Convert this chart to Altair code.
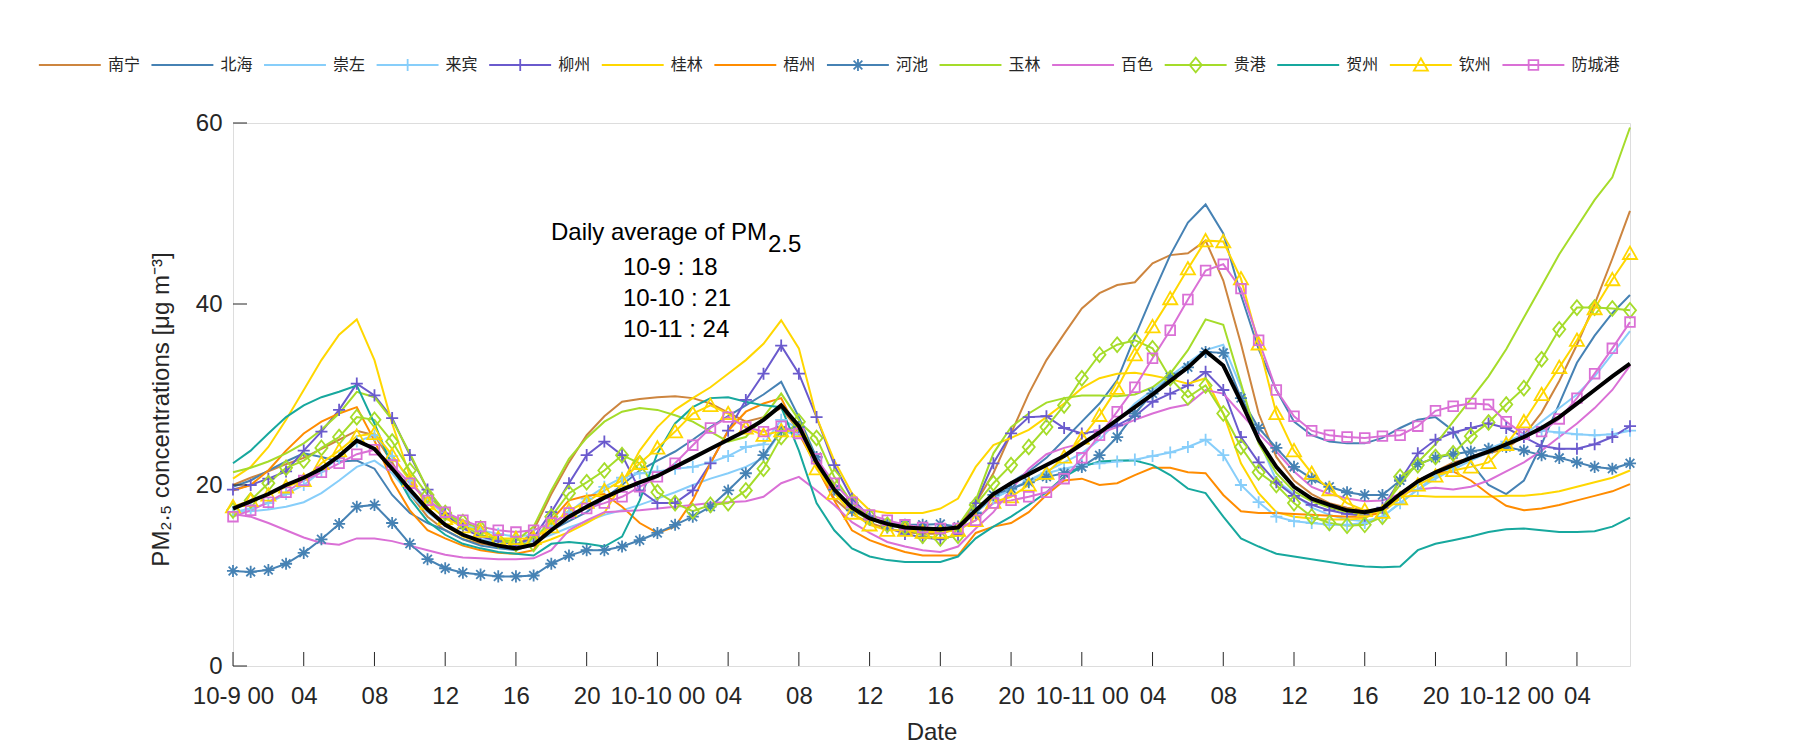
import altair as alt
import pandas as pd

# ---------------- data ----------------
hours = list(range(80))  # 10-9 00 ... 10-12 07, hourly

cities = ["南宁", "北海", "崇左", "来宾", "柳州", "桂林", "梧州",
          "河池", "玉林", "百色", "贵港", "贺州", "钦州", "防城港"]
colors = ["#CD853F", "#4682B4", "#87CEFA", "#87CEFA", "#6A5ACD", "#FFD700", "#FF8C00",
          "#4682B4", "#A5DC2A", "#DA70D6", "#A5DC2A", "#17A89E", "#FFD700", "#DA70D6"]

marker_cities = ["来宾", "柳州", "河池", "贵港", "钦州", "防城港"]
marker_paths = [
    "M-0.9,0H0.9M0,-0.9V0.9",
    "M-0.9,0H0.9M0,-0.9V0.9",
    "M-0.9,0H0.9M0,-0.9V0.9M-0.65,-0.65L0.65,0.65M-0.65,0.65L0.65,-0.65",
    "M0,-1.1L0.9,0L0,1.1L-0.9,0Z",
    "M0,-1L1.05,0.85L-1.05,0.85Z",
    "M-0.72,-0.72H0.72V0.72H-0.72Z",
]

nanning = [20.0, 20.8, 21.5, 22.3, 23.0, 24.0, 25.0, 26.0, 25.5, 22.5,
           19.0, 16.5, 15.0, 14.0, 13.5, 13.2, 13.0, 15.0, 19.0, 22.5,
           25.5, 27.6, 29.2, 29.5, 29.7, 29.8, 29.6, 29.0, 28.0, 27.0,
           27.5, 28.5, 26.0, 22.0, 18.5, 16.8, 15.8, 15.2, 14.8, 14.6,
           14.6, 15.2, 18.0, 21.3, 25.7, 30.1, 33.8, 36.7, 39.5, 41.2,
           42.1, 42.4, 44.5, 45.4, 45.6, 47.0, 42.6, 35.6, 27.9, 23.1,
           20.5, 19.0, 18.0, 17.5, 17.2, 17.3, 18.5, 20.5, 21.5, 22.5,
           23.0, 23.5, 24.0, 25.5, 28.0, 31.5, 35.5, 40.0, 45.0, 50.3]
beihai = [19.8, 20.5, 21.6, 22.6, 23.5, 23.1, 22.6, 22.7, 21.8, 18.9,
          16.9, 15.8, 15.0, 14.0, 13.3, 13.0, 12.8, 13.5, 15.0, 16.0,
          17.0, 18.5, 20.0, 21.6, 22.7, 23.7, 25.0, 26.4, 27.6, 28.8,
          30.0, 31.4, 27.5, 23.0, 19.5, 17.5, 16.3, 15.6, 15.2, 15.0,
          15.0, 15.2, 17.0, 19.0, 20.3, 21.5, 23.0, 25.0, 27.0, 29.0,
          31.6, 36.4, 41.0, 45.4, 49.0, 51.0, 47.8, 41.0, 35.0, 30.5,
          27.0, 25.5, 24.8, 24.6, 24.6, 25.2, 26.3, 27.2, 27.5, 26.0,
          22.5, 20.0, 19.0, 20.5, 24.5, 29.0, 33.5, 36.5, 39.0, 41.0]
chongzuo = [17.0, 17.1, 17.3, 17.6, 18.1, 19.1, 20.5, 22.0, 22.7, 21.3,
            19.0, 17.0, 15.5, 14.5, 14.0, 13.7, 13.5, 13.8, 14.5, 15.3,
            16.0, 16.7, 17.2, 17.8, 18.5, 19.2, 20.0, 20.7, 21.3, 22.0,
            23.0, 26.0, 25.5, 23.0, 19.5, 17.5, 16.3, 15.7, 15.4, 15.2,
            15.2, 15.5, 17.0, 18.5, 19.5, 20.5, 21.5, 22.5, 23.5, 25.0,
            27.0, 29.0, 30.5, 32.0, 33.5, 34.9, 35.5, 30.8, 25.0, 20.5,
            19.0, 17.5, 16.7, 16.2, 16.0, 16.5, 18.0, 19.5, 20.7, 21.7,
            22.7, 23.6, 24.5, 25.5, 27.0, 28.5, 30.0, 32.0, 34.5, 37.0]
laibin = [17.0, 17.4, 18.0, 19.0, 20.0, 21.5, 23.0, 24.8, 25.5, 23.2,
          20.5, 18.3, 16.7, 15.6, 15.0, 14.6, 14.3, 14.5, 15.5, 17.0,
          18.5, 19.8, 20.8, 21.3, 21.5, 21.8, 22.0, 22.5, 23.2, 24.2,
          24.5, 27.2, 26.3, 23.0, 19.5, 17.5, 16.3, 15.6, 15.2, 15.0,
          15.0, 15.3, 17.0, 18.5, 19.5, 20.5, 21.3, 21.8, 22.2, 22.4,
          22.6, 22.8, 23.2, 23.6, 24.2, 25.0, 23.3, 20.0, 18.1, 16.5,
          16.0, 15.8, 15.6, 15.6, 15.8, 16.5, 18.0, 19.5, 21.0, 22.0,
          23.0, 24.0, 24.8, 25.6, 26.0, 25.8, 25.6, 25.5, 25.6, 26.0]
liuzhou = [19.5, 20.0, 20.7, 21.5, 23.8, 25.9, 28.3, 31.2, 29.9, 27.4,
           23.3, 19.5, 16.8, 15.2, 14.3, 13.8, 13.4, 14.2, 17.0, 20.2,
           23.3, 24.8, 23.3, 19.4, 18.0, 18.0, 19.4, 22.4, 26.0, 29.4,
           32.3, 35.4, 32.3, 27.5, 22.2, 18.5, 16.5, 15.3, 14.6, 14.2,
           14.0, 14.5, 18.0, 22.4, 25.7, 27.5, 27.6, 26.3, 25.7, 26.0,
           26.6, 27.6, 29.2, 30.1, 31.0, 32.5, 30.5, 25.3, 22.5, 20.3,
           18.8, 17.8, 17.2, 16.8, 16.6, 17.5, 20.5, 23.5, 25.0, 25.8,
           26.3, 26.8, 26.3, 25.3, 24.3, 24.0, 24.0, 24.5, 25.3, 26.5]
guilin = [20.7, 22.0, 24.2, 27.2, 30.5, 33.8, 36.6, 38.3, 33.8, 26.8,
          21.0, 17.5, 15.5, 14.3, 13.7, 13.3, 13.1, 13.3, 14.0, 14.8,
          15.8, 16.9, 20.2, 23.8, 26.4, 28.3, 29.6, 30.8, 32.3, 33.8,
          35.6, 38.2, 35.1, 27.5, 22.7, 19.1, 17.2, 16.9, 16.9, 16.9,
          17.4, 18.5, 22.0, 24.4, 25.2, 26.1, 27.5, 29.0, 30.7, 31.8,
          32.3, 32.4, 32.1, 31.7, 31.2, 31.8, 27.9, 22.4, 19.1, 17.0,
          16.5, 16.3, 16.2, 16.2, 16.3, 17.5, 18.7, 18.8, 18.7, 18.7,
          18.7, 18.7, 18.8, 18.8, 19.0, 19.3, 19.8, 20.3, 20.8, 21.6]
wuzhou = [19.4, 20.0, 21.6, 23.8, 25.7, 27.0, 27.9, 28.6, 24.9, 20.5,
          17.2, 15.0, 14.1, 13.3, 12.8, 12.5, 12.4, 12.8, 16.1, 18.3,
          18.8, 19.0, 17.6, 15.8, 14.7, 15.4, 18.3, 22.4, 26.0, 28.1,
          29.0, 29.6, 25.7, 22.0, 18.3, 15.0, 13.9, 13.2, 12.6, 12.2,
          12.2, 12.2, 14.7, 15.4, 15.8, 17.0, 18.9, 20.5, 20.7, 20.0,
          20.2, 21.1, 21.9, 21.9, 21.4, 21.3, 18.9, 17.1, 16.9, 16.9,
          16.8, 16.7, 16.6, 16.5, 16.5, 17.0, 19.0, 20.5, 21.3, 21.5,
          20.5, 19.0, 17.7, 17.2, 17.4, 17.8, 18.3, 18.8, 19.3, 20.1]
hechi = [10.5, 10.4, 10.6, 11.3, 12.5, 14.0, 15.7, 17.6, 17.8, 15.8,
         13.5, 11.8, 10.8, 10.3, 10.1, 9.9, 9.9, 10.0, 11.3, 12.2,
         12.8, 12.8, 13.2, 13.9, 14.7, 15.6, 16.5, 17.6, 19.4, 21.3,
         23.3, 26.0, 26.4, 23.1, 19.5, 17.2, 16.2, 15.7, 15.6, 15.6,
         15.7, 15.4, 16.9, 18.9, 19.6, 20.3, 20.9, 21.3, 22.0, 23.3,
         25.3, 27.9, 30.1, 31.9, 33.0, 34.7, 34.6, 29.6, 26.3, 24.1,
         22.0, 20.7, 19.8, 19.2, 18.9, 18.9, 20.5, 22.3, 23.0, 23.4,
         23.7, 24.0, 24.2, 23.8, 23.3, 23.0, 22.5, 22.0, 21.8, 22.4]
yulin = [21.4, 21.9, 22.6, 23.5, 24.6, 26.1, 27.9, 30.3, 29.7, 27.2,
         23.5, 19.5, 17.0, 15.5, 14.5, 14.0, 13.8, 15.4, 19.4, 22.9,
         25.2, 27.0, 28.1, 28.5, 28.3, 27.7, 27.0, 25.9, 24.8, 25.3,
         27.5, 30.1, 27.2, 22.5, 19.5, 17.3, 16.2, 15.6, 15.2, 15.0,
         15.0, 15.5, 18.3, 23.5, 26.4, 27.9, 29.1, 29.6, 29.9, 29.9,
         29.8, 30.0, 30.8, 32.3, 34.9, 38.3, 37.7, 31.2, 24.6, 21.3,
         19.3, 18.2, 17.5, 17.0, 16.8, 17.5, 20.0, 22.5, 24.5, 27.0,
         29.5, 32.0, 35.0, 38.5, 42.0, 45.5, 48.5, 51.5, 54.0, 59.5]
baise = [16.8, 16.5, 15.8, 15.0, 14.2, 13.6, 13.4, 14.1, 14.1, 13.8,
         13.3, 12.8, 12.3, 12.0, 11.9, 11.8, 11.8, 11.9, 12.8, 15.0,
         16.1, 17.0, 17.1, 17.2, 17.4, 17.6, 17.8, 18.0, 18.1, 18.2,
         18.7, 20.2, 20.9, 19.4, 17.8, 15.9, 14.7, 13.7, 13.2, 12.8,
         12.6, 13.2, 15.2, 17.0, 19.5, 21.8, 23.4, 24.1, 24.6, 25.7,
         26.4, 27.2, 27.9, 28.5, 28.9, 30.5, 30.1, 27.9, 25.7, 23.7,
         21.5, 19.8, 19.0, 18.5, 18.2, 18.3, 19.0, 19.5, 19.7, 19.5,
         19.8, 20.5, 21.5, 22.5, 23.8, 25.3, 26.8, 28.5, 30.5, 33.2]
guigang = [17.2, 18.3, 20.2, 21.9, 22.7, 24.1, 25.3, 27.5, 27.2, 24.8,
           21.6, 18.9, 16.9, 15.9, 15.2, 13.9, 13.5, 13.5, 16.5, 19.1,
           20.3, 21.6, 23.3, 22.4, 19.2, 18.0, 17.1, 17.8, 18.0, 19.4,
           21.8, 25.3, 27.0, 25.2, 20.9, 18.0, 16.5, 15.6, 15.3, 14.4,
           14.1, 14.4, 17.8, 20.2, 22.2, 24.2, 26.4, 28.8, 31.8, 34.4,
           35.5, 36.0, 35.1, 31.8, 29.7, 31.0, 27.9, 24.2, 21.4, 20.0,
           18.0, 16.5, 15.8, 15.5, 15.6, 16.5, 20.9, 22.2, 23.1, 23.5,
           25.4, 26.9, 28.9, 30.7, 33.9, 37.2, 39.6, 39.6, 39.5, 39.3]
hezhou = [22.4, 23.8, 25.7, 27.5, 28.8, 29.7, 30.3, 31.0, 26.8, 22.0,
          18.5, 16.0, 14.5, 13.5, 13.0, 12.6, 12.4, 12.2, 13.5, 13.7,
          13.5, 13.2, 14.3, 18.3, 23.5, 26.8, 28.6, 29.6, 29.7, 29.2,
          28.8, 28.6, 23.8, 18.0, 15.0, 13.0, 12.1, 11.7, 11.5, 11.5,
          11.5, 12.1, 14.1, 15.4, 16.5, 17.8, 19.2, 20.9, 22.0, 22.6,
          22.7, 22.7, 22.2, 21.1, 19.6, 19.1, 16.5, 14.1, 13.2, 12.4,
          12.1, 11.8, 11.5, 11.2, 11.0, 10.9, 11.0, 12.8, 13.5, 13.9,
          14.3, 14.8, 15.1, 15.2, 15.0, 14.8, 14.8, 14.9, 15.4, 16.4]
qinzhou = [17.6, 18.3, 18.9, 19.8, 20.5, 22.4, 23.8, 25.4, 25.7, 23.3,
           20.5, 18.0, 16.3, 15.4, 14.9, 14.1, 14.1, 14.1, 15.4, 17.2,
           18.1, 19.4, 20.5, 22.4, 24.1, 25.9, 27.9, 28.8, 27.9, 26.3,
           25.5, 26.0, 26.0, 21.8, 19.1, 16.9, 15.6, 15.0, 15.0, 14.8,
           14.8, 15.0, 16.1, 18.1, 18.7, 20.0, 21.3, 23.1, 25.2, 27.7,
           30.7, 34.4, 37.5, 40.6, 43.9, 47.0, 46.9, 42.8, 35.6, 27.9,
           23.8, 21.3, 19.5, 18.0, 17.2, 17.0, 18.5, 20.0, 21.0, 21.6,
           22.0, 22.5, 24.5, 27.0, 30.0, 33.0, 36.0, 39.5, 42.7, 45.6]
fangchenggang = [16.5, 17.2, 18.1, 19.2, 20.5, 21.4, 22.4, 23.4, 23.9, 22.2,
                 20.2, 18.3, 17.0, 16.1, 15.4, 15.0, 14.8, 15.0, 15.8, 16.9,
                 17.4, 18.0, 18.7, 19.8, 20.9, 22.4, 24.4, 26.3, 27.5, 26.4,
                 25.9, 26.5, 25.7, 22.9, 20.2, 18.1, 16.7, 16.1, 15.6, 15.3,
                 15.2, 15.2, 16.1, 18.0, 18.3, 18.7, 19.2, 20.7, 23.0, 25.5,
                 28.1, 30.8, 34.0, 37.1, 40.5, 43.7, 44.4, 41.7, 36.0, 30.5,
                 27.6, 26.0, 25.5, 25.3, 25.2, 25.4, 25.5, 26.5, 28.2, 28.7,
                 29.0, 28.9, 27.0, 25.6, 25.9, 27.3, 29.6, 32.3, 35.1, 38.0]
average = [17.4, 18.2, 19.0, 20.0, 20.8, 21.8, 23.2, 24.9, 24.0, 21.8,
           19.5, 17.3, 15.6, 14.5, 13.8, 13.3, 13.0, 13.4, 15.0, 16.5,
           17.6, 18.6, 19.5, 20.3, 21.0, 22.0, 23.0, 24.0, 25.0, 26.0,
           27.2, 28.8, 26.5, 22.5, 19.5, 17.5, 16.3, 15.7, 15.3, 15.2,
           15.1, 15.3, 17.2, 19.0, 20.2, 21.2, 22.2, 23.2, 24.5, 25.8,
           27.2, 28.6, 30.0, 31.5, 33.0, 34.8, 33.2, 29.2, 25.0, 22.0,
           19.8, 18.5, 17.8, 17.2, 17.0, 17.4, 19.0, 20.4, 21.4, 22.2,
           23.0, 23.7, 24.5, 25.3, 26.3, 27.5, 29.0, 30.5, 32.0, 33.4]

series_values = [nanning, beihai, chongzuo, laibin, liuzhou, guilin, wuzhou,
                 hechi, yulin, baise, guigang, hezhou, qinzhou, fangchenggang]

x_tick_values = list(range(0, 80, 4))
x_tick_labels = ["10-9 00", "04", "08", "12", "16", "20",
                 "10-10 00", "04", "08", "12", "16", "20",
                 "10-11 00", "04", "08", "12", "16", "20",
                 "10-12 00", "04"]
y_tick_values = [0, 20, 40, 60]

note_title = "Daily average of PM"
note_sub = "2.5"
note_lines = ["10-9 : 18", "10-10 : 21", "10-11 : 24"]

# ---------------- tables ----------------
rows = []
for c, vals in zip(cities, series_values):
    for h, v in zip(hours, vals):
        rows.append({"hour": h, "value": v, "city": c})
df = pd.DataFrame(rows)
df_mark = df[df["city"].isin(marker_cities)]
df_avg = pd.DataFrame({"hour": hours, "value": average})

W, H = 1397, 543
AX = "#262626"
FONT = "Liberation Sans"

xs = alt.Scale(domain=[0, 79], nice=False, zero=False)
ys = alt.Scale(domain=[0, 60], nice=False, zero=False)
color_scale = alt.Scale(domain=cities, range=colors)
shape_scale = alt.Scale(domain=marker_cities, range=marker_paths)

label_expr = "[" + ",".join("'%s'" % s for s in x_tick_labels) + "][round(datum.value/4)]"

x_axis = alt.Axis(values=x_tick_values, labelExpr=label_expr, ticks=False, tickSize=0,
                  domain=False, grid=False, labelFont=FONT, labelFontSize=24,
                  labelColor=AX, labelPadding=18, labelFlush=False, labelOverlap=False,
                  title="Date", titleFont=FONT, titleFontSize=24, titleFontWeight="normal",
                  titleColor=AX, titleY=66, titleBaseline="middle")
y_axis = alt.Axis(values=y_tick_values, ticks=False, tickSize=0, domain=False, grid=False,
                  labelFont=FONT, labelFontSize=24, labelColor=AX, labelPadding=11,
                  title="PM₂.₅ concentrations [μg m⁻³]", titleFont=FONT, titleFontSize=24,
                  titleFontWeight="normal", titleColor=AX, titleX=-72, titleY=286,
                  titleAngle=270, titleAlign="center", titleBaseline="middle")

X = alt.X("hour:Q", scale=xs, axis=x_axis)
Y = alt.Y("value:Q", scale=ys, axis=y_axis)

lines = alt.Chart(df).mark_line(strokeWidth=2).encode(
    x=X, y=Y, color=alt.Color("city:N", scale=color_scale, legend=None))

points = alt.Chart(df_mark).mark_point(filled=False, strokeWidth=1.8, size=180, opacity=1).encode(
    x=X, y=Y,
    color=alt.Color("city:N", scale=color_scale, legend=None),
    shape=alt.Shape("city:N", scale=shape_scale, legend=None))

avg_line = alt.Chart(df_avg).mark_line(color="black", strokeWidth=4).encode(x=X, y=Y)

xt = pd.DataFrame({"t": x_tick_values})
x_ticks_bottom = alt.Chart(xt).mark_rule(color=AX, strokeWidth=1).encode(
    x=alt.X("t:Q", scale=xs), y=alt.value(H), y2=alt.value(H - 14))
yt = pd.DataFrame({"t": y_tick_values})
y_ticks_left = alt.Chart(yt).mark_rule(color=AX, strokeWidth=1).encode(
    y=alt.Y("t:Q", scale=ys), x=alt.value(0), x2=alt.value(14))

# annotation (positions in data units)
note_df = pd.DataFrame({"hour": [30.2], "value": [47.05], "txt": [note_title]})
sub_df = pd.DataFrame({"hour": [30.25], "value": [45.7], "txt": [note_sub]})
lines_df = pd.DataFrame({"hour": [22.05] * 3, "value": [43.18, 39.76, 36.33], "txt": note_lines})
note1 = alt.Chart(note_df).mark_text(align="right", baseline="alphabetic", font=FONT,
                                     fontSize=24, color="black").encode(
    x=alt.X("hour:Q", scale=xs), y=alt.Y("value:Q", scale=ys), text="txt:N")
note2 = alt.Chart(sub_df).mark_text(align="left", baseline="alphabetic", font=FONT,
                                    fontSize=24, color="black").encode(
    x=alt.X("hour:Q", scale=xs), y=alt.Y("value:Q", scale=ys), text="txt:N")
note3 = alt.Chart(lines_df).mark_text(align="left", baseline="alphabetic", font=FONT,
                                      fontSize=24, color="black").encode(
    x=alt.X("hour:Q", scale=xs), y=alt.Y("value:Q", scale=ys), text="txt:N")

main = alt.layer(lines, points, avg_line, x_ticks_bottom, y_ticks_left, note1, note2, note3)

# ---------------- legend (built from the city list) ----------------
idx = list(range(len(cities)))
leg = pd.DataFrame({
    "city": cities,
    "x1": [i for i in idx],
    "x2": [i + 0.55 for i in idx],
    "xm": [i + 0.2756 for i in idx],
    "xt": [i + 0.613 for i in idx],
})
leg_mark = leg[leg["city"].isin(marker_cities)]
ls = alt.Scale(domain=[1.7244, 14.133], nice=False, zero=False)
LY = -58
leg_rule = alt.Chart(leg).mark_rule(strokeWidth=2).encode(
    x=alt.X("x1:Q", scale=ls, axis=None), x2="x2:Q", y=alt.value(LY),
    color=alt.Color("city:N", scale=color_scale, legend=None))
leg_pts = alt.Chart(leg_mark).mark_point(filled=False, strokeWidth=1.8, size=180, opacity=1).encode(
    x=alt.X("xm:Q", scale=ls, axis=None), y=alt.value(LY),
    color=alt.Color("city:N", scale=color_scale, legend=None),
    shape=alt.Shape("city:N", scale=shape_scale, legend=None))
leg_txt = alt.Chart(leg).mark_text(align="left", baseline="middle", font="Noto Sans CJK SC",
                                   fontSize=16, color=AX).encode(
    x=alt.X("xt:Q", scale=ls, axis=None), y=alt.value(LY), text="city:N")
legend = alt.layer(leg_rule, leg_pts, leg_txt)

chart = alt.layer(main, legend).resolve_scale(x="independent").properties(
    width=W, height=H,
    autosize=alt.AutoSizeParams(type="none"),
    padding={"left": 233, "top": 123, "right": 170, "bottom": 84},
).configure_view(stroke=AX, strokeWidth=1.2).configure(background="white")

chart.save("out.html", embed_options={"renderer": "svg", "actions": False})
